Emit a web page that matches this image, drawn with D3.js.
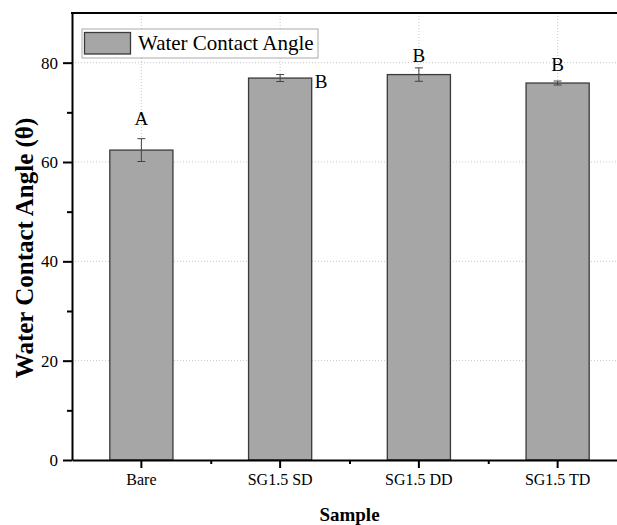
<!DOCTYPE html>
<html>
<head>
<meta charset="utf-8">
<script src="https://cdn.jsdelivr.net/npm/d3@7"></script>
<style>
  body { margin: 0; background: #fff; }
  svg { display: block; font-family: "Liberation Serif", "Times New Roman", serif; }
</style>
</head>
<body>
<svg width="617" height="525"></svg>
<script>
// chart data
var SAMPLES = ["Bare", "SG1.5 SD", "SG1.5 DD", "SG1.5 TD"];
var ANGLE = [62.4, 76.9, 77.6, 75.9];
var ANGLE_ERR = [2.3, 0.7, 1.35, 0.4];
var GROUPS = ["A", "B", "B", "B"];
var GROUP_AT = [67.5, 74.8, 80.1, 78.4]; // where the letter sits, in degrees
var Y_TICKS = [0, 20, 40, 60, 80];
var Y_MINOR = [10, 30, 50, 70];

var svg = d3.select("svg"),
  margin = { top: 13, left: 72, bottom: 65 },
  plotRight = 627,
  height = 525 - margin.top - margin.bottom;

var x = d3.scaleBand()
  .domain(SAMPLES)
  .range([margin.left, plotRight])
  .paddingInner(0.545)
  .paddingOuter(0.2725);

var xEdge = d3.scaleLinear().domain([0, SAMPLES.length]).range([margin.left, plotRight]);

var y = d3.scaleLinear().domain([0, 90]).range([margin.top + height, margin.top]);

var barFill = "#a6a6a6";
var barStroke = "#3a3a3a";

// grid (dotted)
svg.append("g")
  .selectAll("line")
  .data(Y_TICKS.slice(1))
  .enter().append("line")
  .attr("x1", margin.left).attr("x2", plotRight)
  .attr("y1", function (d) { return y(d); })
  .attr("y2", function (d) { return y(d); })
  .style("stroke", "#c8c8c8").style("stroke-dasharray", "1,2");

svg.append("g")
  .selectAll("line")
  .data(SAMPLES)
  .enter().append("line")
  .attr("x1", function (d) { return x(d) + x.bandwidth() / 2; })
  .attr("x2", function (d) { return x(d) + x.bandwidth() / 2; })
  .attr("y1", y(90)).attr("y2", y(0))
  .style("stroke", "#c8c8c8").style("stroke-dasharray", "1,2");

// bars
svg.append("g")
  .selectAll("rect")
  .data(SAMPLES)
  .enter().append("rect")
  .attr("x", function (d) { return x(d); })
  .attr("y", function (d, i) { return y(ANGLE[i]); })
  .attr("width", x.bandwidth())
  .attr("height", function (d, i) { return y(0) - y(ANGLE[i]); })
  .style("fill", barFill)
  .style("stroke", barStroke)
  .style("stroke-width", 1.3);

// error bars
var err = svg.append("g").style("stroke", "#444").style("stroke-width", 1);
SAMPLES.forEach(function (s, i) {
  var cx = x(s) + x.bandwidth() / 2,
    hi = y(ANGLE[i] + ANGLE_ERR[i]),
    lo = y(ANGLE[i] - ANGLE_ERR[i]);
  err.append("line").attr("x1", cx).attr("x2", cx).attr("y1", hi).attr("y2", lo);
  err.append("line").attr("x1", cx - 4).attr("x2", cx + 4).attr("y1", hi).attr("y2", hi);
  err.append("line").attr("x1", cx - 4).attr("x2", cx + 4).attr("y1", lo).attr("y2", lo);
});

// group letters (SD letter sits to the right of its bar)
svg.append("g")
  .selectAll("text")
  .data(GROUPS)
  .enter().append("text")
  .attr("x", function (d, i) {
    return i === 1 ? x(SAMPLES[i]) + x.bandwidth() + 3 : x(SAMPLES[i]) + x.bandwidth() / 2;
  })
  .attr("y", function (d, i) { return y(GROUP_AT[i]); })
  .attr("text-anchor", function (d, i) { return i === 1 ? "start" : "middle"; })
  .style("font-size", "19px")
  .text(function (d) { return d; });

// axes
var yAxis = svg.append("g")
  .attr("transform", "translate(" + margin.left + ",0)")
  .call(d3.axisLeft(y).tickValues(Y_TICKS).tickSize(9).tickSizeOuter(0).tickPadding(5));
svg.append("g")
  .attr("transform", "translate(" + margin.left + ",0)")
  .call(d3.axisLeft(y).tickValues(Y_MINOR).tickSize(5).tickFormat(""))
  .select(".domain").remove();

var xAxis = svg.append("g")
  .attr("transform", "translate(0," + y(0) + ")")
  .call(d3.axisBottom(x).tickSize(8).tickSizeOuter(0).tickPadding(6));
svg.append("g")
  .attr("transform", "translate(0," + y(0) + ")")
  .call(d3.axisBottom(xEdge).tickValues([1, 2, 3]).tickSize(4).tickFormat(""))
  .select(".domain").remove();

svg.selectAll(".domain").style("stroke", "#000").style("stroke-width", 2);
svg.selectAll(".tick line").style("stroke", "#000").style("stroke-width", 2);
yAxis.selectAll("text").style("font-size", "17px").style("font-family", "Liberation Serif").attr("fill", "#000");
xAxis.selectAll("text").style("font-size", "16px").style("font-family", "Liberation Serif").attr("fill", "#000");

// top frame
svg.append("line")
  .attr("x1", margin.left - 1).attr("x2", plotRight)
  .attr("y1", y(90)).attr("y2", y(90))
  .style("stroke", "#000").style("stroke-width", 2);

// legend
var legend = svg.append("g");
legend.append("rect")
  .attr("x", 82).attr("y", 29).attr("width", 236).attr("height", 29)
  .style("fill", "#fff").style("stroke", "#aaa").style("stroke-width", 1);
legend.append("rect")
  .attr("x", 84.5).attr("y", 32.5).attr("width", 46).attr("height", 21.5)
  .style("fill", barFill).style("stroke", barStroke).style("stroke-width", 1.3);
legend.append("text")
  .attr("x", 138).attr("y", 50)
  .style("font-size", "21px")
  .text("Water Contact Angle");

// axis titles
svg.append("text")
  .attr("x", (margin.left + plotRight) / 2)
  .attr("y", 521)
  .attr("text-anchor", "middle")
  .style("font-size", "19px")
  .style("font-weight", "bold")
  .text("Sample");

svg.append("text")
  .attr("text-anchor", "middle")
  .attr("transform", "translate(33,248)rotate(-90)")
  .style("font-size", "25px")
  .style("font-weight", "bold")
  .text("Water Contact Angle (\u03b8)");
</script>
</body>
</html>
